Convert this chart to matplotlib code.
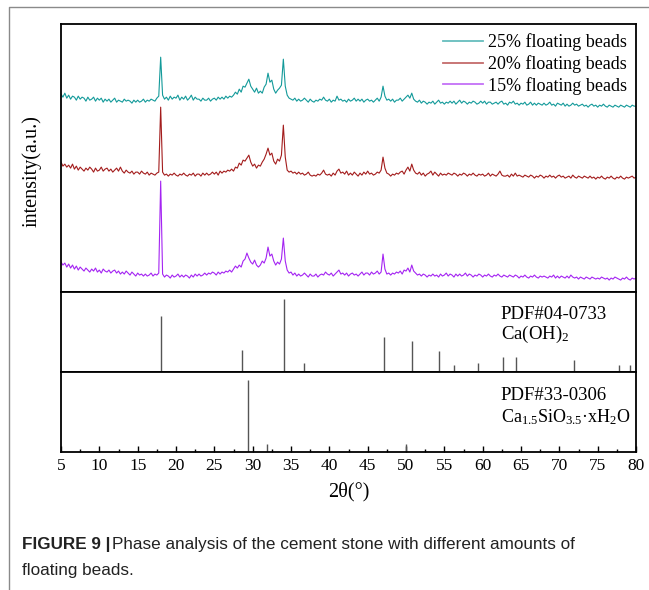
import matplotlib
matplotlib.use("Agg")
import matplotlib.pyplot as plt
from matplotlib.lines import Line2D
import numpy as np

plt.rcParams['font.family'] = ['Liberation Serif', 'DejaVu Serif']
plt.rcParams['mathtext.fontset'] = 'custom'
plt.rcParams['mathtext.rm'] = 'Liberation Serif'
plt.rcParams['mathtext.it'] = 'Liberation Serif:italic'

# 2theta grid, 0.25 deg steps from 5 to 80
two_theta = np.linspace(5, 80, 301)

# intensities (a.u.)
beads_25 = [
    198, 195, 199, 194, 197, 193, 196, 195, 192, 196, 193, 195, 194, 191, 195, 192,
    193, 195, 191, 194, 192, 194, 190, 193, 191, 193, 190, 192, 194, 190, 192, 191,
    190, 193, 191, 192, 191, 189, 192, 190, 192, 190, 191, 193, 190, 192, 191, 193,
    192, 191, 194, 196, 235, 197, 193, 195, 192, 196, 193, 195, 194, 197, 192, 195,
    193, 196, 192, 194, 197, 192, 195, 193, 193, 191, 194, 192, 192, 194, 191, 193,
    194, 192, 195, 193, 195, 193, 196, 194, 196, 195, 197, 200, 198, 203, 200, 206,
    205, 209, 213, 206, 203, 200, 204, 199, 201, 199, 205, 208, 219, 210, 212, 203,
    199, 202, 204, 207, 233, 206, 197, 194, 193, 192, 194, 191, 193, 191, 192, 194,
    192, 190, 193, 191, 190, 192, 191, 193, 192, 195, 192, 191, 193, 190, 192, 191,
    196, 192, 193, 191, 192, 190, 193, 191, 192, 194, 191, 193, 191, 193, 190, 192,
    193, 191, 192, 190, 192, 194, 191, 195, 206, 196, 192, 193, 191, 193, 190, 192,
    192, 194, 191, 193, 195, 197, 194, 199, 193, 191, 190, 192, 189, 191, 190, 188,
    190, 189, 191, 188, 190, 192, 189, 190, 188, 190, 189, 191, 189, 191, 188, 190,
    192, 189, 191, 190, 188, 190, 189, 191, 190, 188, 189, 191, 189, 191, 188, 190,
    190, 188, 189, 190, 188, 190, 191, 188, 189, 187, 190, 189, 191, 188, 189, 187,
    189, 188, 190, 187, 188, 190, 187, 189, 187, 189, 188, 187, 189, 187, 188, 190,
    187, 188, 186, 189, 188, 187, 189, 186, 188, 186, 187, 189, 187, 188, 186, 187,
    188, 186, 187, 185, 187, 188, 186, 187, 185, 187, 186, 188, 186, 185, 187, 186,
    185, 187, 186, 185, 187, 186, 185, 187, 186, 185, 187, 186, 186,
]
beads_20 = [
    130, 126, 128, 125, 127, 124, 128, 123, 126, 122, 125, 123, 121, 124, 122, 125,
    123, 120, 124, 121, 122, 125, 121, 123, 124, 121, 123, 120, 122, 124, 121, 125,
    121, 119, 122, 120, 119, 121, 118, 120, 120, 118, 121, 119, 118, 120, 117, 119,
    118, 117, 119, 120, 185, 120, 117, 118, 116, 118, 117, 119, 117, 116, 118, 117,
    119, 117, 116, 118, 117, 119, 116, 118, 118, 116, 119, 117, 119, 117, 118, 120,
    118, 120, 117, 121, 119, 121, 120, 122, 121, 123, 121, 125, 124, 129, 127, 132,
    131, 134, 137, 130, 126, 128, 124, 127, 126, 130, 133, 138, 144, 137, 139, 131,
    128, 133, 131, 137, 167, 135, 122, 120, 121, 119, 120, 118, 120, 118, 119, 117,
    118, 120, 117, 116, 117, 116, 118, 117, 119, 122, 118, 117, 118, 116, 119, 117,
    121, 123, 119, 120, 118, 121, 117, 119, 117, 120, 118, 116, 119, 117, 120, 118,
    121, 118, 119, 117, 118, 120, 119, 122, 135, 124, 119, 118, 116, 118, 117, 119,
    118, 120, 121, 118, 122, 125, 121, 128, 122, 119, 118, 120, 117, 119, 116, 118,
    119, 121, 117, 120, 118, 116, 119, 117, 118, 117, 119, 118, 117, 119, 118, 116,
    118, 117, 119, 118, 116, 118, 117, 119, 117, 116, 118, 117, 118, 116, 117, 119,
    116, 118, 117, 116, 118, 121, 117, 116, 116, 117, 115, 118, 116, 119, 116, 117,
    116, 115, 117, 116, 115, 117, 116, 114, 116, 115, 117, 116, 114, 116, 115, 117,
    115, 116, 114, 116, 117, 115, 116, 114, 115, 116, 114, 117, 115, 114, 116, 115,
    114, 116, 115, 114, 116, 114, 115, 113, 115, 114, 116, 114, 113, 115, 114, 116,
    114, 113, 115, 114, 116, 114, 113, 115, 114, 115, 116, 114, 115,
]
beads_15 = [
    30, 27, 29, 25, 28, 24, 27, 23, 26, 22, 25, 23, 21, 24, 22, 20,
    23, 21, 24, 20, 22, 19, 23, 21, 20, 22, 19, 21, 22, 19, 21, 18,
    20, 18, 21, 19, 17, 20, 18, 16, 19, 17, 18, 16, 18, 16, 17, 19,
    16, 18, 17, 19, 111, 18, 15, 17, 16, 14, 17, 15, 16, 18, 15, 17,
    15, 17, 16, 14, 17, 15, 18, 16, 18, 16, 17, 19, 17, 19, 18, 20,
    19, 17, 20, 18, 20, 19, 21, 20, 22, 20, 23, 26, 24, 27, 25, 31,
    33, 39, 34, 30, 28, 32, 27, 25, 27, 31, 29, 34, 45, 36, 38, 31,
    27, 30, 28, 33, 54, 31, 22, 19, 20, 17, 19, 16, 18, 16, 17, 19,
    17, 15, 18, 16, 16, 18, 15, 17, 18, 17, 20, 18, 17, 19, 16, 18,
    20, 22, 18, 19, 17, 19, 16, 18, 19, 17, 18, 16, 18, 20, 17, 19,
    19, 17, 20, 18, 19, 21, 18, 20, 38, 23, 18, 19, 17, 19, 18, 20,
    19, 21, 18, 22, 21, 24, 20, 27, 21, 19, 17, 18, 16, 18, 17, 15,
    17, 16, 18, 16, 17, 15, 18, 16, 17, 19, 16, 18, 17, 15, 18, 16,
    18, 16, 17, 19, 16, 18, 17, 15, 17, 16, 18, 17, 15, 17, 16, 18,
    16, 15, 17, 16, 18, 16, 15, 17, 16, 15, 17, 16, 15, 17, 16, 14,
    16, 15, 17, 15, 14, 16, 15, 17, 15, 14, 16, 15, 16, 15, 14, 16,
    15, 17, 14, 16, 14, 16, 15, 14, 16, 14, 17, 15, 14, 15, 13, 15,
    14, 13, 15, 14, 13, 15, 14, 13, 14, 13, 15, 14, 13, 14, 12, 14,
    13, 15, 14, 13, 12, 14, 13, 15, 13, 12, 14, 13, 14,
]
series_labels = ['25% floating beads', '20% floating beads', '15% floating beads']
series_colors = ['#139a9a', '#a31c1c', '#a424f2']

# reference patterns (relative intensity)
caoh2_pos = [18.09, 28.66, 34.09, 36.7, 47.12, 50.79, 54.33, 56.3, 59.4, 62.6, 64.3, 71.9, 77.8, 79.2]
caoh2_int = [70, 27, 91, 11, 44, 39, 26, 9, 11, 19, 19, 15, 9, 9]
csh_pos = [29.4, 31.9, 50.0]
csh_int = [90, 10, 10]

fig = plt.figure(figsize=(6.49, 5.90), dpi=100)
L, W = 0.094, 0.886
ax1 = fig.add_axes([L, 0.505, W, 0.454])
ax2 = fig.add_axes([L, 0.3695, W, 0.1356])
ax3 = fig.add_axes([L, 0.2339, W, 0.1356])

for ys, lab, col in zip([beads_25, beads_20, beads_15], series_labels, series_colors):
    ax1.plot(two_theta, ys, color=col, lw=0.8, label=lab)
ax1.set_ylim(0, 268)
leg = ax1.legend(loc='upper right', frameon=False, fontsize=13, handlelength=2.2,
                 labelspacing=0.22, borderaxespad=0.1, handletextpad=0.3)
for h in leg.get_lines():
    h.set_alpha(0.65)
    h.set_linewidth(1.3)

ax2.vlines(caoh2_pos, 0, caoh2_int, color='#555555', lw=1.0)
ax2.set_ylim(0, 100)
ax2.text(0.765, 0.72, 'PDF#04-0733', transform=ax2.transAxes, fontsize=13.5, va='center')
ax2.text(0.765, 0.47, 'Ca(OH)$_2$', transform=ax2.transAxes, fontsize=13.5, va='center')

ax3.vlines(csh_pos, 0, csh_int, color='#555555', lw=1.0)
ax3.set_ylim(0, 100)
ax3.text(0.765, 0.70, 'PDF#33-0306', transform=ax3.transAxes, fontsize=13.5, va='center')
ax3.text(0.765, 0.43, 'Ca$_{1.5}$SiO$_{3.5}$·xH$_2$O', transform=ax3.transAxes, fontsize=13, va='center')

for ax in (ax1, ax2, ax3):
    ax.set_xlim(5, 80)
    ax.set_yticks([])
    for sp in ax.spines.values():
        sp.set_linewidth(1.3)
for ax in (ax1, ax2):
    ax.set_xticks([])

ax3.set_xticks(np.arange(5, 81, 5))
ax3.set_xticks(np.arange(7.5, 80, 5), minor=True)
ax3.tick_params(axis='x', which='both', direction='in', labelsize=12.5, width=1.0, pad=4)
ax3.tick_params(axis='x', which='major', length=4)
ax3.tick_params(axis='x', which='minor', length=2.5)
ax3.set_xlabel('2θ(°)', fontsize=14.5, labelpad=6)

fig.text(32 / 649, 1 - 171 / 590, 'intensity(a.u.)', rotation=90, fontsize=14.5,
         ha='center', va='center')

# outer frame of the figure panel
fig.add_artist(Line2D([9 / 649, 9 / 649, 1.0], [0.0, 1 - 7 / 590, 1 - 7 / 590],
                      transform=fig.transFigure, color='#8a8a8a', lw=1.0))

# caption
cap_font = ['Liberation Sans', 'DejaVu Sans']
cap_size = 12.3
t1 = fig.text(22 / 649, 1 - 545 / 590, 'FIGURE 9 |', fontsize=cap_size, fontweight='bold',
              family=cap_font, va='center', color='#222222')
fig.canvas.draw()
bb = t1.get_window_extent(fig.canvas.get_renderer())
fig.text(bb.x1 / fig.bbox.width + 0.002, 1 - 545 / 590,
         'Phase analysis of the cement stone with different amounts of',
         fontsize=cap_size, family=cap_font, va='center', color='#222222')
fig.text(22 / 649, 1 - 571 / 590, 'floating beads.', fontsize=cap_size, family=cap_font,
         va='center', color='#222222')

fig.savefig('out.png', dpi=100)
